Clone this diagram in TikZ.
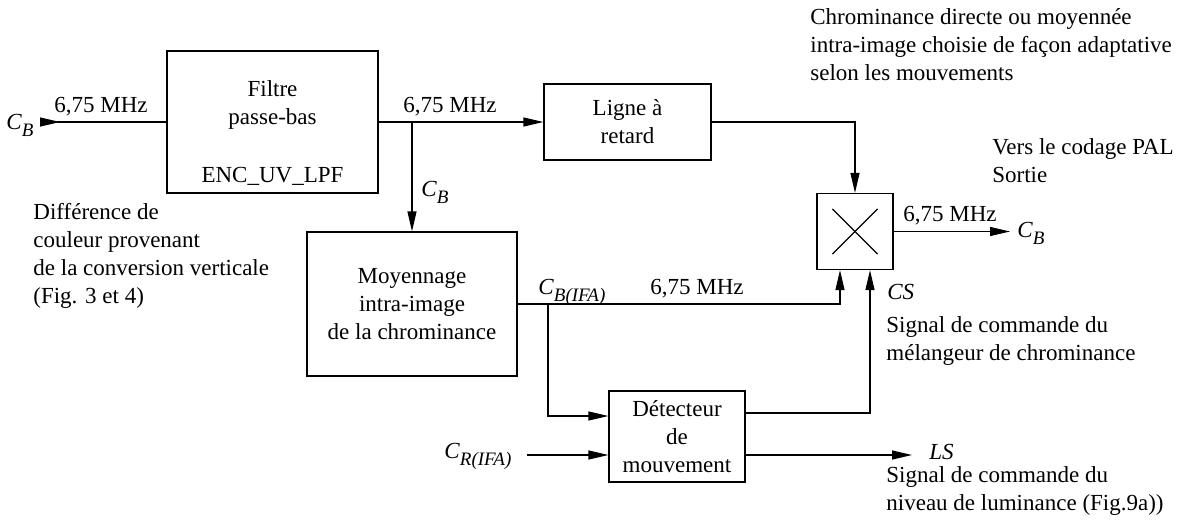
\documentclass[tikz,border=0pt]{standalone}
\usepackage{fontspec}
\setmainfont{Liberation Serif}
\usetikzlibrary{arrows.meta}

\newcommand{\sig}[2]{\textit{#1}\raisebox{-3.5pt}{\fontsize{9.5}{10}\selectfont\textit{#2}}}

\begin{document}
\begin{tikzpicture}[x=0.5pt, y=-0.5pt,
    font=\fontsize{11.5}{14}\selectfont,
    every node/.style={inner sep=0pt},
    blk/.style={draw, line width=0.6pt, align=center},
    txt/.style={align=left, anchor=base west},
    lbl/.style={anchor=base},
    wire/.style={line width=0.6pt},
    arr/.style={wire, -{Triangle[length=10pt,width=4.5pt]}}
]
\useasboundingbox (0,0) rectangle (1185,521);

% blocs
\node[blk, minimum width=105.5pt, minimum height=71pt] (filt) at (272.5,122)
    {\rule{0pt}{19pt}Filtre\\passe-bas\\[15pt]ENC\_UV\_LPF};
\node[blk, minimum width=83.5pt, minimum height=38pt] (ligne) at (627.5,122) {Ligne à\\retard};
\node[blk, minimum width=105pt, minimum height=72pt] (moy) at (412,304)
    {Moyennage\\intra-image\\de la chrominance};
\node[blk, minimum width=68pt, minimum height=45.5pt] (det) at (677,436.5)
    {Détecteur\\de\\mouvement};
\node[draw, line width=0.6pt, minimum size=38pt] (mix) at (855,231.5) {};
\draw[wire] ([shift={(16,16)}]mix.north west) -- ([shift={(-16,-16)}]mix.south east);
\draw[wire] ([shift={(-16,16)}]mix.north east) -- ([shift={(16,-16)}]mix.south west);

% points libres
\coordinate (cbin) at (40,122);
\coordinate (br) at (548,304);
\coordinate (crin) at (527,455);
\coordinate (cbout) at (1010,231.5);
\coordinate (lsout) at (912,455);

% liaisons
\draw[wire, {Triangle[reversed,length=10pt,width=4.5pt]}-] (cbin) -- (filt.west);
\draw[arr] (filt.east) -- (ligne.west);
\draw[arr] (moy.north |- filt.east) -- (moy.north);
\draw[arr] (ligne.east) -| (mix.north);
\draw[arr] (mix.east) -- (cbout);
\draw[arr] (moy.east) -| ([shift={(-15,0)}]mix.south);
\draw[arr] (br) |- ([shift={(0,-20.5)}]det.west);
\draw[arr] (crin) -- (crin -| det.west);
\draw[arr] ([shift={(0,-23.5)}]det.east) -| ([shift={(15,0)}]mix.south);
\draw[arr] (det.east |- crin) -- (lsout);

% etiquettes
\node[lbl] (f1) at (101,112) {6,75 MHz};
\node[lbl] (f2) at (450,112) {6,75 MHz};
\node[lbl] (f3) at (697,294) {6,75 MHz};
\node[lbl] (f4) at (950,221) {6,75 MHz};
\node[anchor=base east] (cbinlbl) at (34,129) {\sig{C}{B}};
\node[anchor=base west] (cbmid) at (421,196) {\sig{C}{B}};
\node[anchor=base west] (cbifa) at (538,294) {\sig{C}{B(IFA)}};
\node[anchor=base west] (crifa) at (444,458) {\sig{C}{R(IFA)}};
\node[anchor=base west] (cboutlbl) at (1017,237) {\sig{C}{B}};
\node[anchor=base west] (cs) at (887,299) {\textit{CS}};
\node[anchor=base west] (ls) at (929,459) {\textit{LS}};

% textes
\node[txt] (diff) at (33,303)
    {Différence de\\couleur provenant\\de la conversion verticale\\(Fig. 3 et 4)};
\node[txt] (chro) at (810,80)
    {Chrominance directe ou moyennée\\intra-image choisie de façon adaptative\\selon les mouvements};
\node[txt] (pal) at (992,182) {Vers le codage PAL\\Sortie};
\node[txt] (cstxt) at (886,360) {Signal de commande du\\mélangeur de chrominance};
\node[txt] (lstxt) at (886,510) {Signal de commande du\\niveau de luminance (Fig.9a))};
\end{tikzpicture}
\end{document}
